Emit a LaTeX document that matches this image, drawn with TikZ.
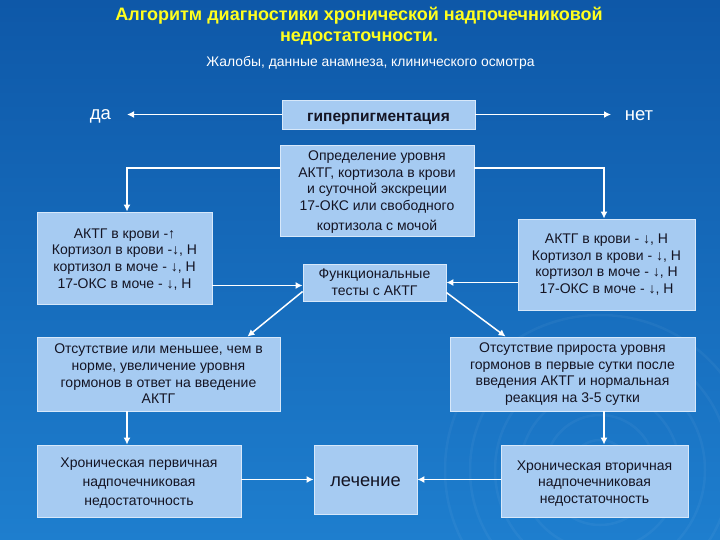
\documentclass[tikz,border=0pt]{standalone}
\usepackage{fontspec}
\setmainfont{Liberation Sans}
\usetikzlibrary{arrows.meta}
\definecolor{bgtop}{RGB}{14,88,168}
\definecolor{bgbot}{RGB}{30,126,206}
\definecolor{boxfill}{RGB}{166,203,242}
\definecolor{boxline}{RGB}{215,232,250}
\definecolor{txt}{RGB}{20,20,35}
\definecolor{ttl}{RGB}{255,255,30}
\newcommand{\lowr}[2]{\raisebox{-#1}[\height][\depth]{#2}}
\tikzset{
  box/.style={draw=boxline, line width=0.8pt, fill=boxfill, text=txt, inner sep=0pt,
    align=center, font=\fontsize{14}{16.7}\selectfont},
  arr/.style={draw=white, line width=1.5pt, -{Latex[length=7pt,width=7pt]}},
  plain/.style={text=white, inner sep=0pt},
  ripple/.style={draw=white, draw opacity=0.045, line width=2.5pt}
}
\begin{document}
\begin{tikzpicture}[x=1pt,y=-1pt]
\useasboundingbox (0,0) rectangle (720,540);
\fill[top color=bgtop, bottom color=bgbot] (0,0) rectangle (720,540);
\begin{scope}
\clip (0,0) rectangle (720,540);
\foreach \r in {30,55,80,105,130,155} {\draw[ripple] (600,470) circle[radius=\r];}
\end{scope}
% title
\node[plain, text=ttl, font=\bfseries\fontsize{18}{21.5}\selectfont, align=center] (title) at (359,26)
  {Алгоритм диагностики хронической надпочечниковой\\недостаточности.};
\node[plain, font=\fontsize{13.9}{16}\selectfont] (sub) at (370.5,63) {Жалобы, данные анамнеза, клинического осмотра};
% row 1
\node[box, minimum width=193, minimum height=29, font=\bfseries\fontsize{15.5}{18}\selectfont] (hyp) at (378.5,114.5) {\lowr{4pt}{гиперпигментация}};
\node[plain, font=\fontsize{18.5}{20}\selectfont] (da) at (100.5,116) {да};
\node[plain, font=\fontsize{18.5}{20}\selectfont] (net) at (639,116) {нет};
\coordinate (daend) at (127,114.5);
\coordinate (netend) at (611,114.5);
\draw[arr] (hyp.west) -- (daend);
\draw[arr] (hyp.east) -- (netend);
% determination
\node[box, minimum width=194, minimum height=91, font=\fontsize{14}{16.4}\selectfont] (opr) at (377,190.5)
  {\lowr{2pt}{\begin{tabular}{@{}c@{}}Определение уровня\\АКТГ, кортизола в крови\\и суточной экскреции\\17-ОКС или свободного\\[4pt]кортизола с мочой\end{tabular}}};
\node[box, minimum width=175, minimum height=92] (L1) at (124.5,258)
  {\lowr{2pt}{\begin{tabular}{@{}c@{}}АКТГ в крови -↑\\Кортизол в крови -↓, Н\\кортизол в моче - ↓, Н\\17-ОКС в моче - ↓, Н\end{tabular}}};
\node[box, minimum width=177, minimum height=91] (R1) at (606.5,264.5)
  {АКТГ в крови - ↓, Н\\Кортизол в крови - ↓, Н\\кортизол в моче - ↓, Н\\17-ОКС в моче - ↓, Н};
\node[box, minimum width=143, minimum height=37] (func) at (374.5,282.5)
  {Функциональные\\тесты с АКТГ};
\coordinate (lk) at (127,168);
\coordinate (rk) at (604,168);
\draw[arr] (opr.west |- lk) -| (L1.north -| lk);
\draw[arr] (opr.east |- rk) -| (R1.north -| rk);
\draw[arr] ([yshift=-3pt]L1.east |- func.west) -- ([yshift=-3pt]func.west);
\draw[arr] (R1.west |- func.east) -- (func.east);
% results
\node[box, minimum width=243, minimum height=74] (L2) at (158.5,374)
  {Отсутствие или меньшее, чем в\\норме, увеличение уровня\\гормонов в ответ на введение\\АКТГ};
\node[box, minimum width=245, minimum height=74] (R2) at (572.5,374)
  {Отсутствие прироста уровня\\гормонов в первые сутки после\\введения АКТГ и нормальная\\реакция на 3-5 сутки};
\draw[arr] ([yshift=-9pt]func.west) -- ([xshift=-33pt]L2.north east);
\draw[arr] ([yshift=-10pt]func.east) -- ([xshift=56pt]R2.north west);
% diagnoses
\node[box, minimum width=204, minimum height=72, font=\fontsize{14}{19.3}\selectfont] (L3) at (139,481)
  {\lowr{1.5pt}{\begin{tabular}{@{}c@{}}Хроническая первичная\\надпочечниковая\\недостаточность\end{tabular}}};
\node[box, minimum width=103, minimum height=69, font=\fontsize{18.3}{20}\selectfont] (T) at (365.5,479.5) {\lowr{2pt}{лечение}};
\node[box, minimum width=187, minimum height=72] (R3) at (594.5,481)
  {\lowr{2.5pt}{\begin{tabular}{@{}c@{}}Хроническая вторичная\\надпочечниковая\\недостаточность\end{tabular}}};
\draw[arr] (L2.south -| lk) -- (L3.north -| lk);
\draw[arr] (R2.south -| rk) -- (R3.north -| rk);
\draw[arr] (L3.east |- T.west) -- (T.west);
\draw[arr] (R3.west |- T.east) -- (T.east);
\end{tikzpicture}
\end{document}
